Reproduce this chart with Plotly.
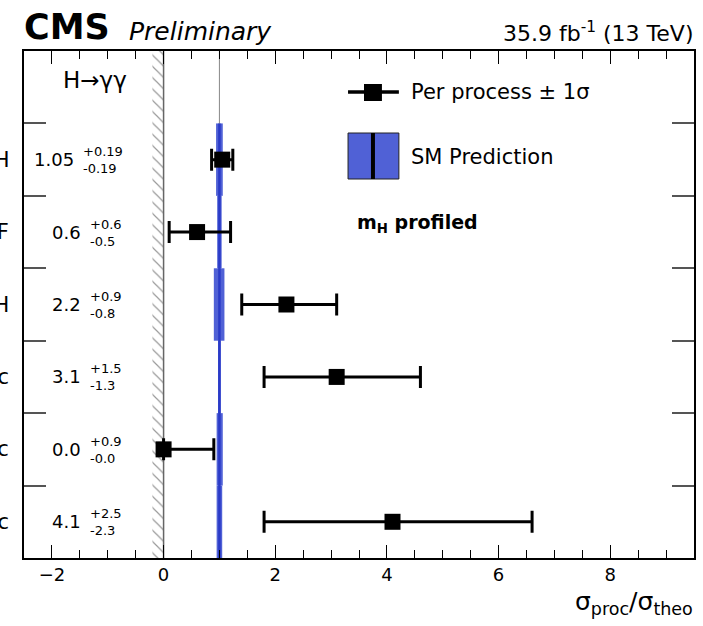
import plotly.graph_objects as go

# ---------------- data ----------------
processes = ["ggH", "VBF", "ttH", "WH leptonic", "ZH leptonic", "VH hadronic"]
mu = [1.05, 0.6, 2.2, 3.1, 0.0, 4.1]
err_up = [0.19, 0.6, 0.9, 1.5, 0.9, 2.5]
err_dn = [0.19, 0.5, 0.8, 1.3, 0.0, 2.3]
mu_text = ["1.05", "0.6", "2.2", "3.1", "0.0", "4.1"]
up_text = ["+0.19", "+0.6", "+0.9", "+1.5", "+0.9", "+2.5"]
dn_text = ["-0.19", "-0.5", "-0.8", "-1.3", "-0.0", "-2.3"]
sm_value = 1.0
sm_unc_dn = [0.06, 0.04, 0.10, 0.025, 0.05, 0.05]
sm_unc_up = [0.06, 0.04, 0.09, 0.025, 0.06, 0.05]
hatch_lo, hatch_hi = -0.2, 0.0
x_ticks = [-2, 0, 2, 4, 6, 8]
x_range = [-2.5, 9.5]
n_slots = 7  # 6 processes + header slot

# ---------------- geometry ----------------
W, H = 703, 626
L, R, T, B = 24, 7, 51, 68
PW, PH = W - L - R, H - T - B
FONT = "DejaVu Sans"
BAND = "rgb(80,97,214)"
LINE_BLUE = "rgb(42,58,200)"


def px(x):
    return (x - L) / PW


def py(y):
    return (H - B - y) / PH


slot_px = PH / n_slots
row_y = [len(processes) - 0.5 - i for i in range(len(processes))]

fig = go.Figure()

# physical boundary hatch
fig.add_trace(go.Scatter(
    x=[hatch_lo, hatch_hi, hatch_hi, hatch_lo, hatch_lo],
    y=[0, 0, n_slots, n_slots, 0],
    fill="toself", mode="lines", line=dict(width=0),
    fillcolor="white",
    fillpattern=dict(shape="\\", fgcolor="#333333", bgcolor="white", size=8, solidity=0.15),
    hoverinfo="skip", showlegend=False))
fig.add_trace(go.Scatter(x=[hatch_hi, hatch_hi], y=[0, n_slots], mode="lines",
                         line=dict(color="#666666", width=1.5), showlegend=False))
# thin gray reference line at SM
fig.add_trace(go.Scatter(x=[sm_value, sm_value], y=[0, n_slots], mode="lines",
                         line=dict(color="#888888", width=1), showlegend=False))
# SM theory bands
fig.add_trace(go.Bar(
    orientation="h", y=row_y,
    x=[d + u for d, u in zip(sm_unc_dn, sm_unc_up)],
    base=[sm_value - d for d in sm_unc_dn],
    width=1, marker=dict(color=BAND, line=dict(width=0)),
    showlegend=False, hoverinfo="skip"))
fig.add_trace(go.Scatter(x=[sm_value, sm_value], y=[0, len(processes)], mode="lines",
                         line=dict(color=LINE_BLUE, width=2.5), showlegend=False))
# measurements
fig.add_trace(go.Scatter(
    x=mu, y=row_y, mode="markers",
    marker=dict(symbol="square", size=16, color="black"),
    error_x=dict(type="data", symmetric=False, array=err_up, arrayminus=err_dn,
                 thickness=3, width=11, color="black"),
    showlegend=False, cliponaxis=False))

ann = []
for i, yv in enumerate(row_y):
    ann.append(dict(xref="paper", yref="y", x=px(11), y=yv, xanchor="right", yanchor="middle",
                    text=processes[i], showarrow=False, font=dict(family=FONT, size=21, color="black")))
    sup_left = 116 - 7 * len(up_text[i])
    ann.append(dict(xref="paper", yref="y", x=px(sup_left - 5), y=yv, xanchor="right", yanchor="middle",
                    text=mu_text[i], showarrow=False, font=dict(family=FONT, size=18, color="black")))
    ann.append(dict(xref="paper", yref="y", x=px(sup_left), y=yv + 8 / slot_px, xanchor="left",
                    yanchor="middle", text=up_text[i], showarrow=False,
                    font=dict(family=FONT, size=13, color="black")))
    ann.append(dict(xref="paper", yref="y", x=px(sup_left), y=yv - 9 / slot_px, xanchor="left",
                    yanchor="middle", text=dn_text[i], showarrow=False,
                    font=dict(family=FONT, size=13, color="black")))

# header texts
ann += [
    dict(xref="paper", yref="paper", x=px(22), y=py(27), xanchor="left", yanchor="middle",
         text="<b>CMS</b>", showarrow=False, font=dict(family=FONT, size=35, color="black")),
    dict(xref="paper", yref="paper", x=px(127), y=py(31), xanchor="left", yanchor="middle",
         text="<i>Preliminary</i>", showarrow=False, font=dict(family=FONT, size=25, color="black")),
    dict(xref="paper", yref="paper", x=px(697), y=py(32), xanchor="right", yanchor="middle",
         text="35.9 fb<sup>-1</sup> (13 TeV)", showarrow=False, font=dict(family=FONT, size=22, color="black")),
    dict(xref="paper", yref="paper", x=px(95), y=py(80), xanchor="center", yanchor="middle",
         text="H→γγ", showarrow=False, font=dict(family=FONT, size=23, color="black")),
    dict(xref="paper", yref="paper", x=px(410), y=py(92), xanchor="left", yanchor="middle",
         text="Per process ± 1σ", showarrow=False, font=dict(family=FONT, size=21, color="black")),
    dict(xref="paper", yref="paper", x=px(410), y=py(157), xanchor="left", yanchor="middle",
         text="SM Prediction", showarrow=False, font=dict(family=FONT, size=21, color="black")),
    dict(xref="paper", yref="paper", x=px(356), y=py(224), xanchor="left", yanchor="middle",
         text="<b>m<sub>H</sub> profiled</b>", showarrow=False, font=dict(family=FONT, size=19, color="black")),
    dict(xref="paper", yref="paper", x=px(697), y=py(603), xanchor="right", yanchor="middle",
         text="σ<sub>proc</sub>/σ<sub>theo</sub>", showarrow=False, font=dict(family=FONT, size=25, color="black")),
]

shapes = [
    dict(type="line", xref="paper", yref="paper", x0=px(349), x1=px(400), y0=py(92), y1=py(92),
         line=dict(color="black", width=3.5)),
    dict(type="rect", xref="paper", yref="paper", x0=px(365), x1=px(383), y0=py(84), y1=py(101),
         fillcolor="black", line=dict(width=0)),
    dict(type="rect", xref="paper", yref="paper", x0=px(349), x1=px(400), y0=py(133), y1=py(179),
         fillcolor=BAND, line=dict(color="#222", width=1)),
    dict(type="line", xref="paper", yref="paper", x0=px(374), x1=px(374), y0=py(133), y1=py(179),
         line=dict(color="black", width=4)),
]

fig.update_layout(
    width=W, height=H, margin=dict(l=L, r=R, t=T, b=B),
    paper_bgcolor="white", plot_bgcolor="white",
    showlegend=False, barmode="overlay",
    annotations=ann, shapes=shapes,
    font=dict(family=FONT, color="black"),
    xaxis=dict(range=x_range, tickvals=x_ticks, ticks="inside", ticklen=13, tickwidth=1.3,
               tickcolor="black", showline=True, linecolor="black", linewidth=1.5, mirror="ticks",
               showgrid=False, zeroline=False, tickfont=dict(family=FONT, size=18, color="black"),
               minor=dict(dtick=0.5, tick0=0, ticks="inside", ticklen=8, tickwidth=1.2, tickcolor="black")),
    yaxis=dict(range=[0, n_slots], tickvals=list(range(1, len(processes) + 1)), ticks="inside",
               ticklen=22, tickwidth=1.5, tickcolor="#555555", showticklabels=False,
               showline=True, linecolor="black", linewidth=1.5, mirror="ticks",
               showgrid=False, zeroline=False),
)

fig.write_html("out.html", config={"displayModeBar": False},
               post_script="document.body.style.margin='0';")
